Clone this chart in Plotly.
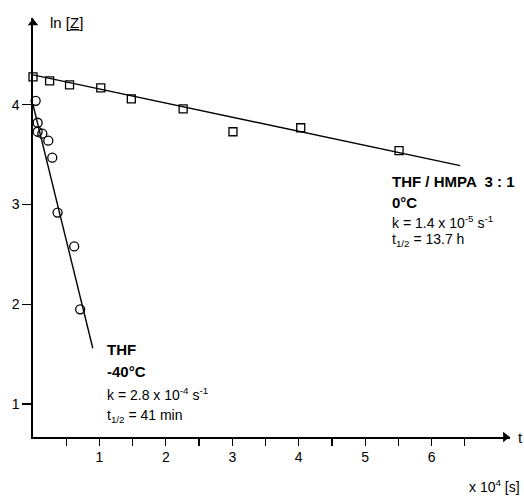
import plotly.graph_objects as go

# ---- data (x in units of 10^4 s, y = ln[Z]) ----
hmpa_t = [0.00, 0.25, 0.55, 1.02, 1.48, 2.26, 3.01, 4.03, 5.51]
hmpa_lnz = [4.28, 4.24, 4.20, 4.17, 4.06, 3.96, 3.73, 3.77, 3.54]
hmpa_fit_t = [0.00, 6.43]
hmpa_fit_lnz = [4.30, 3.39]

thf_t = [-0.02, 0.04, 0.07, 0.07, 0.14, 0.23, 0.29, 0.37, 0.62, 0.71]
thf_lnz = [3.98, 4.04, 3.82, 3.73, 3.71, 3.64, 3.47, 2.92, 2.58, 1.95]
thf_fit_t = [0.00, 0.90]
thf_fit_lnz = [4.00, 1.56]

x_tickvals = [1, 2, 3, 4, 5, 6]
x_ticktext = ["1", "2", "3", "4", "5", "6"]
x_minor_tickvals = [0.5, 1.5, 2.5, 3.5, 4.5, 5.5, 6.5]
y_tickvals = [1, 2, 3, 4]
y_ticktext = ["1", "2", "3", "4"]

X_MAX = 7.18
Y_MIN = 0.67
Y_MAX = 4.87

FONT = "Liberation Sans, Arial, Helvetica, sans-serif"
FS = 14

fig = go.Figure()

fig.add_trace(go.Scatter(x=hmpa_fit_t, y=hmpa_fit_lnz, mode="lines",
                         line=dict(color="black", width=1.4), showlegend=False))
fig.add_trace(go.Scatter(x=thf_fit_t, y=thf_fit_lnz, mode="lines",
                         line=dict(color="black", width=1.4), showlegend=False))
fig.add_trace(go.Scatter(x=hmpa_t, y=hmpa_lnz, mode="markers", cliponaxis=False,
                         marker=dict(symbol="square-open", size=8, color="black",
                                     line=dict(width=1.3, color="black")),
                         showlegend=False))
fig.add_trace(go.Scatter(x=thf_t, y=thf_lnz, mode="markers", cliponaxis=False,
                         marker=dict(symbol="circle-open", size=9, color="black",
                                     line=dict(width=1.3, color="black")),
                         showlegend=False))

# axis arrowheads (triangles at the ends of the axes)
fig.add_trace(go.Scatter(x=[X_MAX - 0.07], y=[Y_MIN], mode="markers", cliponaxis=False,
                         marker=dict(symbol="triangle-right", size=9, color="black"),
                         showlegend=False))
fig.add_trace(go.Scatter(x=[0], y=[Y_MAX - 0.05], mode="markers", cliponaxis=False,
                         marker=dict(symbol="triangle-up", size=9, color="black"),
                         showlegend=False))

fig.update_layout(
    width=524, height=497,
    margin=dict(l=33, r=14, t=18, b=60),
    paper_bgcolor="white", plot_bgcolor="white",
    font=dict(family=FONT, size=FS, color="black"),
    hovermode=False,
    xaxis=dict(range=[0, X_MAX], showgrid=False, zeroline=False,
               showline=True, linecolor="black", linewidth=1.6,
               ticks="outside", ticklen=7, tickwidth=1.2, tickcolor="black",
               tickvals=x_tickvals, ticktext=x_ticktext,
               tickfont=dict(size=FS, family=FONT),
               minor=dict(tickvals=x_minor_tickvals, ticks="outside", ticklen=7,
                          tickwidth=1.2, tickcolor="black", showgrid=False)),
    yaxis=dict(range=[Y_MIN, Y_MAX], showgrid=False, zeroline=False,
               showline=True, linecolor="black", linewidth=1.6,
               ticks="outside", ticklen=9, tickwidth=1.2, tickcolor="black",
               tickvals=y_tickvals, ticktext=y_ticktext,
               tickfont=dict(size=FS, family=FONT)),
)

def txt(x, y, s, xref="x", yref="y", xanchor="left", size=FS):
    fig.add_annotation(x=x, y=y, xref=xref, yref=yref, text=s, showarrow=False,
                       xanchor=xanchor, yanchor="middle",
                       font=dict(family=FONT, size=size, color="black"))

# axis labels
txt(0.22, 4.82, "ln [<u>Z</u>]", size=15)
txt(1.012, 0.0, "t", xref="paper", yref="paper", size=15)
txt(1.025, -0.117, "x 10<sup>4</sup> [s]", xref="paper", yref="paper", xanchor="right")

# right annotation (THF/HMPA)
txt(5.38, 3.23, "<b>THF / HMPA  3 : 1</b>", size=15)
txt(5.38, 3.02, "<b>0°C</b>", size=15)
txt(5.38, 2.83, "k = 1.4 x 10<sup>-5</sup> s<sup>-1</sup>")
txt(5.38, 2.64, "t<sub>1/2</sub> = 13.7 h")

# left annotation (THF)
txt(1.08, 1.545, "<b>THF</b>", size=15)
txt(1.08, 1.327, "<b>-40°C</b>", size=15)
txt(1.08, 1.10, "k = 2.8 x 10<sup>-4</sup> s<sup>-1</sup>")
txt(1.08, 0.876, "t<sub>1/2</sub> = 41 min")

fig.write_html(
    "out.html",
    config={"displayModeBar": False, "staticPlot": True},
    post_script="document.body.style.margin='0';"
                "document.documentElement.style.overflow='hidden';",
)
